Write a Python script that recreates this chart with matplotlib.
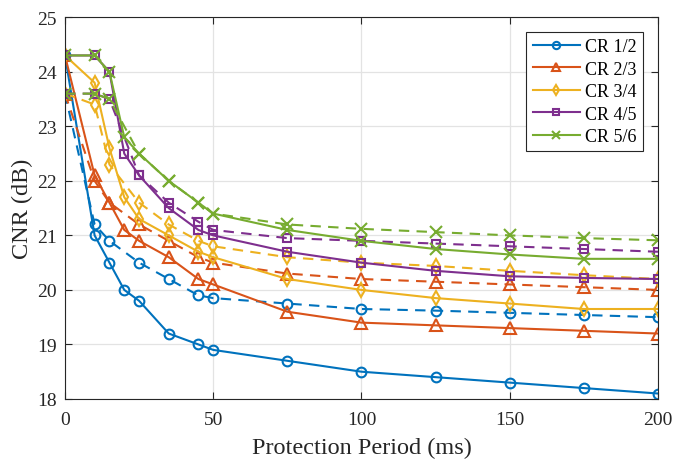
import matplotlib
matplotlib.use("Agg")
import matplotlib.pyplot as plt

plt.rcParams['font.family'] = ['Liberation Serif', 'DejaVu Serif']
plt.rcParams['mathtext.fontset'] = 'stix'

# x positions
x_solid = [0, 10, 15, 20, 25, 35, 45, 50, 75, 100, 125, 150, 175, 200]
x_dash = [0, 10, 15, 25, 35, 45, 50, 75, 100, 125, 150, 175, 200]

labels = ['CR 1/2', 'CR 2/3', 'CR 3/4', 'CR 4/5', 'CR 5/6']

# solid series
cr12_solid = [24.3, 21.0, 20.5, 20.0, 19.8, 19.2, 19.0, 18.9, 18.7, 18.5, 18.4, 18.3, 18.2, 18.1]
cr23_solid = [24.3, 22.1, 21.6, 21.1, 20.9, 20.6, 20.2, 20.1, 19.6, 19.4, 19.35, 19.3, 19.25, 19.2]
cr34_solid = [24.3, 23.8, 22.6, 21.7, 21.3, 21.0, 20.7, 20.6, 20.2, 20.0, 19.85, 19.75, 19.65, 19.65]
cr45_solid = [24.3, 24.3, 24.0, 22.5, 22.1, 21.5, 21.1, 21.0, 20.7, 20.5, 20.35, 20.25, 20.22, 20.2]
cr56_solid = [24.3, 24.3, 24.0, 22.8, 22.5, 22.0, 21.6, 21.4, 21.1, 20.9, 20.75, 20.65, 20.57, 20.57]

# dashed series
cr12_dash = [23.6, 21.2, 20.9, 20.5, 20.2, 19.9, 19.85, 19.75, 19.65, 19.62, 19.58, 19.54, 19.5]
cr23_dash = [23.6, 22.0, 21.6, 21.2, 20.9, 20.6, 20.5, 20.3, 20.2, 20.15, 20.1, 20.05, 20.0]
cr34_dash = [23.6, 23.4, 22.3, 21.6, 21.2, 20.9, 20.8, 20.6, 20.5, 20.44, 20.35, 20.27, 20.2]
cr45_dash = [23.6, 23.6, 23.5, 22.1, 21.6, 21.25, 21.1, 20.95, 20.9, 20.85, 20.8, 20.75, 20.7]
cr56_dash = [23.6, 23.6, 23.5, 22.5, 22.0, 21.6, 21.4, 21.2, 21.12, 21.06, 21.0, 20.95, 20.91]

colors = ['#0072BD', '#D95319', '#EDB120', '#7E2F8E', '#77AC30']
markers = ['o', '^', 'd', 's', 'x']
msizes = [7, 8, 7, 6, 8]

solids = [cr12_solid, cr23_solid, cr34_solid, cr45_solid, cr56_solid]
dashes = [cr12_dash, cr23_dash, cr34_dash, cr45_dash, cr56_dash]

fig = plt.figure(figsize=(6.74, 4.64), dpi=100)
ax = fig.add_axes([0.0964, 0.138, 0.8798, 0.8226])

handles = []
for ys, yd, c, m, ms, lab in zip(solids, dashes, colors, markers, msizes, labels):
    h, = ax.plot(x_solid, ys, color=c, marker=m, markersize=ms, markerfacecolor='none',
                 markeredgewidth=1.5, linewidth=1.5, label=lab)
    ax.plot(x_dash, yd, color=c, marker=m, markersize=ms, markerfacecolor='none',
            markeredgewidth=1.5, linewidth=1.5, linestyle=(0, (5, 3.5)))
    handles.append(h)

ax.set_xlim(0, 200)
ax.set_ylim(18, 25)
ax.set_xticks([0, 50, 100, 150, 200])
ax.set_yticks([18, 19, 20, 21, 22, 23, 24, 25])
ax.grid(True, color='#e3e3e3', linewidth=0.9)
ax.set_axisbelow(True)
ax.tick_params(direction='in', top=True, right=True, labelsize=14, length=5, width=0.8,
               colors='#262626')
ax.tick_params(axis='x', pad=9)
ax.tick_params(axis='y', pad=6)
for s in ax.spines.values():
    s.set_color('#262626')
    s.set_linewidth(0.8)

ax.set_xlabel('Protection Period (ms)', fontsize=17.5, color='#262626', labelpad=6)
ax.set_ylabel('CNR (dB)', fontsize=17.5, color='#262626', labelpad=3)

leg = ax.legend(handles=handles, loc='upper right', fontsize=13, fancybox=False,
                framealpha=1, edgecolor='#262626', handlelength=2.6, borderpad=0.35,
                labelspacing=0.3, handletextpad=0.3, bbox_to_anchor=(0.99, 0.985),
                markerscale=0.75)
leg.get_frame().set_linewidth(0.8)

fig.savefig('out.png', dpi=100)
